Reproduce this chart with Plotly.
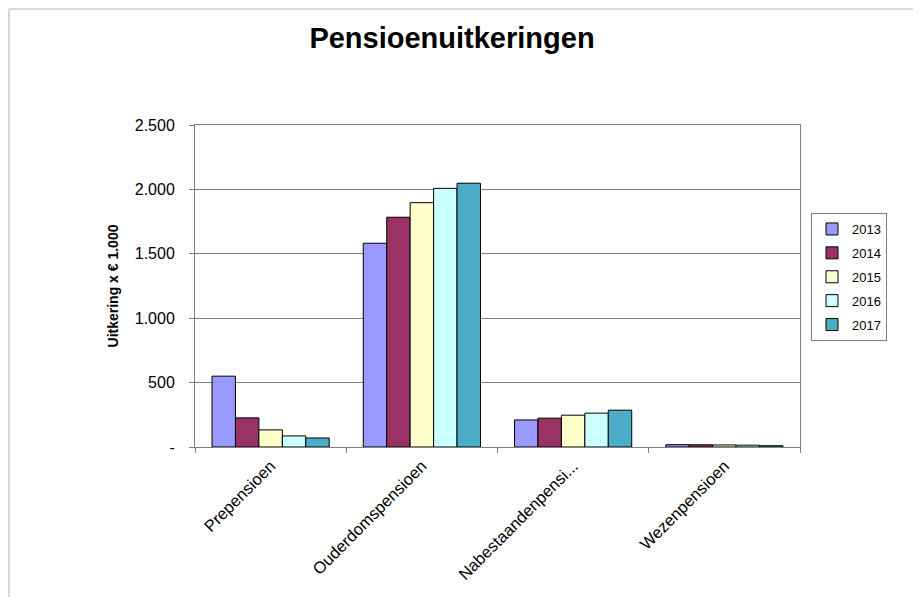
import plotly.graph_objects as go

categories = ["Prepensioen", "Ouderdomspensioen", "Nabestaandenpensi...", "Wezenpensioen"]
years = ["2013", "2014", "2015", "2016", "2017"]
values = {
    "2013": [550, 1582, 210, 18],
    "2014": [226, 1784, 224, 17],
    "2015": [133, 1897, 247, 16],
    "2016": [86, 2008, 263, 14],
    "2017": [70, 2048, 286, 10],
}
colors = ["#9999FF", "#993366", "#FFFFCC", "#CCFFFF", "#4BACC6"]
y_ticks = [0, 500, 1000, 1500, 2000, 2500]
y_ticktext = ["-", "500", "1.000", "1.500", "2.000", "2.500"]

fig = go.Figure()
for i, yr in enumerate(years):
    fig.add_trace(go.Bar(
        x=categories, y=values[yr], name=yr,
        marker=dict(color=colors[i], line=dict(color="#000000", width=1)),
        legendgroup=yr,
    ))

OFF = 8  # page body margin
W, H = 921, 597
L, R, T, B = 195 - OFF, 800 - OFF, 125 - OFF, 447 - OFF

fig.update_layout(
    width=W, height=H,
    margin=dict(l=L, r=W - R, t=T, b=H - B),
    paper_bgcolor="white", plot_bgcolor="white",
    barmode="group", bargap=0.225, bargroupgap=0,
    font=dict(family="Liberation Sans, Arial, sans-serif", size=14, color="#000000"),
    title=dict(text="<b>Pensioenuitkeringen</b>", x=(452 - OFF) / W, xanchor="center",
               y=1 - (38 - OFF) / H, yanchor="middle",
               font=dict(size=29, color="#000000")),
    legend=dict(x=(811 - OFF - L) / (R - L), y=(B - (213 - OFF)) / (B - T), xanchor="left", yanchor="top",
                bordercolor="#808080", borderwidth=1, font=dict(size=13),
                tracegroupgap=4, itemwidth=30),
    xaxis=dict(showline=True, linecolor="#808080", linewidth=1, mirror=True,
               ticks="outside", tickson="boundaries", ticklen=5, tickcolor="#808080",
               tickangle=-45, showgrid=False, tickfont=dict(size=16.5), ticklabelstandoff=2),
    yaxis=dict(range=[0, 2500], tickvals=y_ticks, ticktext=y_ticktext,
               showline=True, linecolor="#808080", linewidth=1, mirror=True,
               ticks="outside", ticklen=5, tickcolor="#808080",
               showgrid=True, gridcolor="#808080", gridwidth=1,
               tickfont=dict(size=16), ticklabelstandoff=11,
               title=dict(text="<b>Uitkering x € 1.000</b>", font=dict(size=14), standoff=12),
               zeroline=False),
)

# light outer chart border (top and left)
x0 = (1 - L) / (R - L)
y0 = (B - 1) / (B - T)
fig.add_shape(type="line", xref="paper", yref="paper", x0=x0, x1=(W - L) / (R - L), y0=y0, y1=y0,
              line=dict(color="#D9D9D9", width=2))
fig.add_shape(type="line", xref="paper", yref="paper", x0=x0, x1=x0, y0=y0, y1=(B - H) / (B - T),
              line=dict(color="#D9D9D9", width=2))

fig.write_html("out.html")
